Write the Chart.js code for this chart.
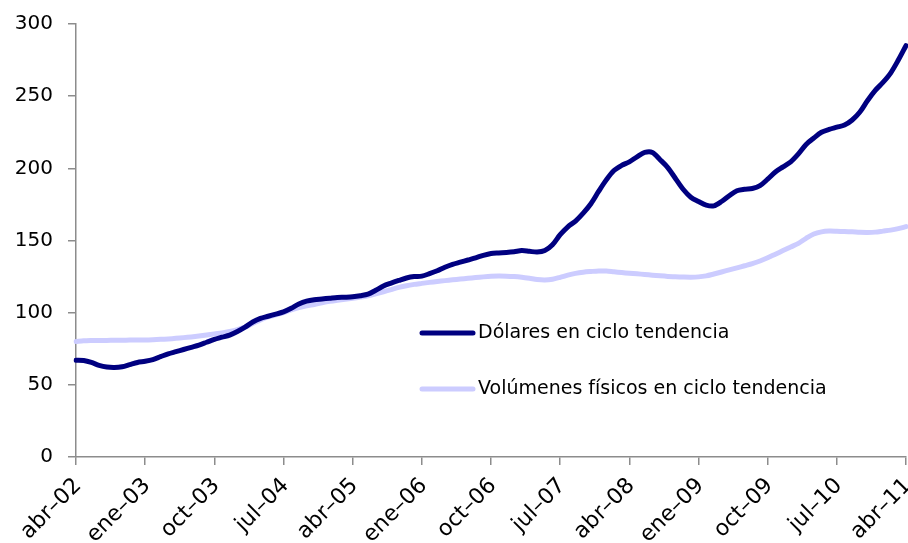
<!DOCTYPE html>
<html>
<head>
<meta charset="utf-8">
<script src="https://cdn.jsdelivr.net/npm/chart.js@4.4.1/dist/chart.umd.min.js"></script>
<style>
  html, body { margin: 0; padding: 0; background: #fff; }
  #wrap { width: 908px; height: 543px; }
</style>
</head>
<body>
<div id="wrap"><canvas id="chart" width="908" height="543"></canvas></div>
<script>
// Meses en español, serie mensual abr-02 .. abr-11
const monthNames = ["ene", "feb", "mar", "abr", "may", "jun", "jul", "ago", "sep", "oct", "nov", "dic"];
const startYear = 2002, startMonth = 3, nMonths = 109;

const dolares = [
  67, 66.8, 65.5, 63.5, 62.3, 62, 62.5, 64, 65.5, 66.3,
  67.5, 69.5, 71.5, 73, 74.5, 76, 77.5, 79.5, 81.5, 83,
  84.5, 87, 90, 93.5, 96, 97.5, 99, 100.5, 103, 106,
  108, 109, 109.5, 110, 110.5, 110.7, 111, 111.7, 112.8, 115.5,
  118.5, 120.5, 122.3, 124, 125, 125.3, 127, 129, 131.5, 133.5,
  135, 136.5, 138, 139.7, 141, 141.4, 141.7, 142.2, 143, 142.5,
  142, 143, 147, 154, 159.5, 163.5, 169, 175.5, 184, 192,
  198.5, 202, 204.5, 208, 211, 211, 206, 200.5, 193, 185.5,
  180, 177, 174.5, 174, 177, 181, 184.5, 185.5, 186, 188,
  192.5, 197.5, 201, 204.5, 210, 216.5, 221, 225, 227, 228.5,
  230, 233.5, 239, 247, 254, 259.5, 266, 275, 285
];

const volumenes = [
  80, 80.5, 80.7, 80.8, 80.8, 80.9, 80.9, 81, 81, 81,
  81.2, 81.5, 81.8, 82.2, 82.7, 83.2, 83.8, 84.5, 85.3, 86,
  87, 88.3, 90, 92.5, 95, 97, 98.5, 100, 102, 103.5,
  104.7, 105.7, 106.8, 107.8, 108.6, 109.3, 110, 110.8, 111.6, 113,
  114.5, 116, 117.5, 118.7, 119.6, 120.3, 121, 121.6, 122.2, 122.8,
  123.3, 123.8, 124.3, 124.8, 125.2, 125.4, 125.3, 125, 124.5, 123.8,
  123, 122.7, 123.2, 124.5, 126, 127.2, 128, 128.5, 128.9, 128.8,
  128.3, 127.8, 127.3, 126.9, 126.5, 126, 125.5, 125.1, 124.9, 124.7,
  124.6, 124.8, 125.5, 126.8, 128.2, 129.6, 131, 132.5, 134, 135.8,
  138, 140.5, 143, 145.5, 148, 151.5, 154.5, 156, 156.5, 156.4,
  156.2, 156, 155.7, 155.6, 155.8, 156.5, 157.2, 158.2, 159.6
];

const seriesNames = ["Dólares en ciclo tendencia", "Volúmenes físicos en ciclo tendencia"];
const seriesColors = ["#000080", "#ccccff"];
const yTicks = [0, 50, 100, 150, 200, 250, 300];
const labelEvery = 9;

const labels = [];
for (let i = 0; i < nMonths; i++) {
  const m = (startMonth + i) % 12;
  const y = startYear + Math.floor((startMonth + i) / 12);
  labels.push(monthNames[m] + "\u2013" + String(y % 100).padStart(2, "0"));
}

const FONT = "'DejaVu Sans', Verdana, sans-serif";
const axisColor = "#8c8c8c";

// leyenda dibujada dentro del área del gráfico
const insideLegend = {
  id: "insideLegend",
  afterDraw(chart) {
    const ctx = chart.ctx;
    const rows = [333, 389];
    ctx.save();
    chart.data.datasets.forEach((ds, i) => {
      const y = rows[i];
      ctx.strokeStyle = ds.borderColor;
      ctx.lineWidth = 5;
      ctx.lineCap = "round";
      ctx.beginPath();
      ctx.moveTo(422, y);
      ctx.lineTo(473, y);
      ctx.stroke();
      ctx.fillStyle = "#000";
      ctx.font = "19px " + FONT;
      ctx.textBaseline = "middle";
      ctx.textAlign = "left";
      ctx.fillText(ds.label, 478, y);
    });
    ctx.restore();
  }
};

function noPad(s) {
  s.paddingLeft = 0; s.paddingRight = 0; s.paddingTop = 0; s.paddingBottom = 0;
}

new Chart(document.getElementById("chart"), {
  type: "line",
  data: {
    labels: labels,
    datasets: [
      { label: seriesNames[0], data: dolares, borderColor: seriesColors[0], borderWidth: 5 },
      { label: seriesNames[1], data: volumenes, borderColor: seriesColors[1], borderWidth: 5 }
    ]
  },
  options: {
    responsive: false,
    animation: false,
    devicePixelRatio: 1,
    layout: { padding: { top: 24, right: 2, left: 0, bottom: 0 } },
    elements: {
      point: { radius: 0 },
      line: { tension: 0.3, borderCapStyle: "round", borderJoinStyle: "round", fill: false }
    },
    plugins: {
      legend: { display: false },
      tooltip: { enabled: false }
    },
    scales: {
      x: {
        offset: false,
        afterFit: (s) => { s.height = 86; noPad(s); },
        grid: { display: true, drawOnChartArea: false, drawTicks: true, tickLength: 8, color: axisColor, lineWidth: 1.5 },
        border: { display: true, color: axisColor, width: 1.5 },
        ticks: {
          autoSkip: false,
          maxRotation: 45,
          minRotation: 45,
          padding: 8,
          labelOffset: 2,
          color: "#000",
          font: { family: FONT, size: 22 },
          callback: function (val, idx) {
            return idx % labelEvery === 0 ? labels[idx] : null;
          }
        }
      },
      y: {
        min: 0,
        max: 300,
        afterFit: (s) => { s.width = 76; noPad(s); },
        afterBuildTicks: (s) => { s.ticks = yTicks.map(v => ({ value: v })); },
        grid: { display: true, drawOnChartArea: false, drawTicks: true, tickLength: 8, color: axisColor, lineWidth: 1.5 },
        border: { display: true, color: axisColor, width: 1.5 },
        ticks: {
          padding: 15,
          color: "#000",
          font: { family: FONT, size: 20 }
        }
      }
    }
  },
  plugins: [insideLegend]
});
</script>
</body>
</html>
